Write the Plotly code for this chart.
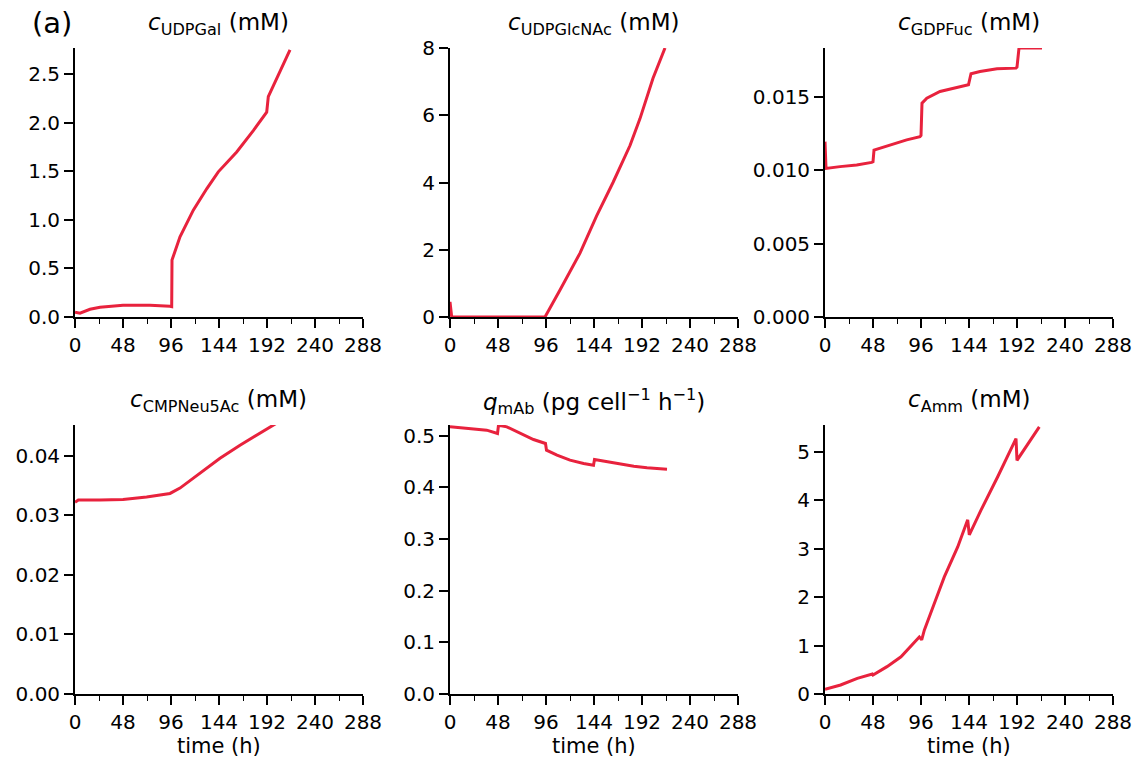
import plotly.graph_objects as go

# ---------------- data ----------------
t_udpgal = [0, 5, 15, 25, 48, 75, 95, 96.7, 97, 105, 118.3, 131.7, 143.3, 161.7, 178.3, 191.7, 193.3, 201.7, 215]
v_udpgal = [0.05, 0.04, 0.08, 0.10, 0.12, 0.12, 0.11, 0.106, 0.586, 0.826, 1.10, 1.32, 1.495, 1.70, 1.92, 2.11,
            2.27, 2.46, 2.75]

t_udpglcnac = [0, 1.7, 30, 60, 95, 110, 120, 130, 146.5, 163, 180, 190, 203, 215]
v_udpglcnac = [0.45, 0.0, 0.0, 0.0, 0.0, 0.8, 1.35, 1.9, 3.0, 4.0, 5.1, 5.9, 7.1, 8.0]

t_gdpfuc = [0, 1, 15, 31.7, 46.7, 48, 49, 65, 81.7, 95, 96, 97, 101.8, 115, 131.8, 143.5, 144, 146, 155, 172, 191, 192, 194, 217]
v_gdpfuc = [0.01193, 0.01011, 0.01023, 0.01034, 0.01052, 0.01056, 0.01136, 0.01170, 0.01205, 0.01227, 0.01235,
            0.01455, 0.01489, 0.01534, 0.01564, 0.01580, 0.01595, 0.01655, 0.01670, 0.01689, 0.01693, 0.01700,
            0.01830, 0.01830]

t_cmpneu = [0, 3.3, 25, 48, 71.6, 95, 105, 125, 145, 165, 185, 201.5, 217.5]
v_cmpneu = [0.0322, 0.0326, 0.0326, 0.0327, 0.0331, 0.0337, 0.0346, 0.0371, 0.0396, 0.0418, 0.0438, 0.0455, 0.0468]

t_qmab = [0, 23.4, 36.7, 47.5, 48.5, 56.8, 70, 83.5, 95.5, 96.5, 107, 120, 133.6, 143.5, 144.5, 157, 170.4, 183.8, 197, 217]
v_qmab = [0.5174, 0.5142, 0.511, 0.5045, 0.5206, 0.5174, 0.5045, 0.4929, 0.4852, 0.4723, 0.4626, 0.4529, 0.4465,
          0.4432, 0.4542, 0.4497, 0.4452, 0.4413, 0.4381, 0.4355]

t_amm = [0, 15.6, 32.3, 47.3, 48, 62, 76, 88, 94.3, 96.7, 99.3, 109.3, 119.3, 132.7, 142.7, 144.3, 156, 172.7,
         191, 192, 214.3]
v_amm = [0.097, 0.186, 0.324, 0.414, 0.393, 0.566, 0.77, 1.05, 1.18, 1.12, 1.32, 1.87, 2.42, 3.04, 3.60, 3.29,
         3.80, 4.49, 5.28, 4.83, 5.52]

x_ticks = [0, 48, 96, 144, 192, 240, 288]

titles = [
    "<i>c</i><sub>UDPGal</sub> (mM)",
    "<i>c</i><sub>UDPGlcNAc</sub> (mM)",
    "<i>c</i><sub>GDPFuc</sub> (mM)",
    "<i>c</i><sub>CMPNeu5Ac</sub> (mM)",
    "<i>q</i><sub>mAb</sub> (pg cell<sup>−1</sup> h<sup>−1</sup>)",
    "<i>c</i><sub>Amm</sub> (mM)",
]

series = [
    (t_udpgal, v_udpgal, [0, 2.77], 0.5, ".1f"),
    (t_udpglcnac, v_udpglcnac, [0, 8.0], 2, "d"),
    (t_gdpfuc, v_gdpfuc, [0, 0.0183], 0.005, ".3f"),
    (t_cmpneu, v_cmpneu, [0, 0.0452], 0.01, ".2f"),
    (t_qmab, v_qmab, [0, 0.521], 0.1, ".1f"),
    (t_amm, v_amm, [0, 5.56], 1, "d"),
]

# ---------------- layout geometry ----------------
W, H = 1141, 769
col_px = [(75, 363), (450, 738), (825, 1113)]
row_px = [(48, 317), (425, 694)]
title_y = [24, 401]
RED = "#e8223d"
FONT = "DejaVu Sans"
TICK = 20

fig = go.Figure()
layout = dict(
    width=W, height=H, margin=dict(l=0, r=0, t=0, b=0, pad=0, autoexpand=False),
    plot_bgcolor="white", paper_bgcolor="white", showlegend=False,
    font=dict(family=FONT, size=TICK, color="black"),
)
annotations = []

for i, (t, v, yr, dt, fmt) in enumerate(series):
    r, c = divmod(i, 3)
    x0, x1 = col_px[c]
    y0, y1 = row_px[r]
    xa = "xaxis" if i == 0 else f"xaxis{i+1}"
    ya = "yaxis" if i == 0 else f"yaxis{i+1}"
    xref = "x" if i == 0 else f"x{i+1}"
    yref = "y" if i == 0 else f"y{i+1}"
    fig.add_trace(go.Scatter(x=t, y=v, mode="lines", line=dict(color=RED, width=3),
                             xaxis=xref, yaxis=yref, hoverinfo="skip"))
    layout[xa] = dict(
        domain=[x0 / W, x1 / W], anchor=yref, range=[0, 288], automargin=False,
        tickmode="array", tickvals=x_ticks, ticks="outside", ticklen=9, tickwidth=1.8,
        tickcolor="black", showline=True, linecolor="black", linewidth=1.8,
        showgrid=False, zeroline=False, tickfont=dict(size=TICK, family=FONT),
        minor=dict(dtick=24, tick0=0, ticks="outside", ticklen=5, tickwidth=1.4, tickcolor="black", showgrid=False),
    )
    layout[ya] = dict(
        domain=[1 - y1 / H, 1 - y0 / H], anchor=xref, range=yr, automargin=False,
        tick0=0, dtick=dt, tickformat=fmt, ticks="outside", ticklen=9, tickwidth=1.8,
        tickcolor="black", showline=True, linecolor="black", linewidth=1.8,
        showgrid=False, zeroline=False, tickfont=dict(size=TICK, family=FONT),
    )
    annotations.append(dict(
        text=titles[i], x=(x0 + x1) / 2 / W, y=1 - title_y[r] / H,
        xref="paper", yref="paper", xanchor="center", yanchor="middle",
        showarrow=False, font=dict(size=23, family=FONT),
    ))
    if r == 1:
        annotations.append(dict(
            text="time (h)", x=(x0 + x1) / 2 / W, y=1 - 746 / H,
            xref="paper", yref="paper", xanchor="center", yanchor="middle",
            showarrow=False, font=dict(size=21, family=FONT),
        ))

annotations.append(dict(text="(a)", x=30 / W, y=1 - 23 / H, xref="paper", yref="paper",
                        xanchor="left", yanchor="middle", showarrow=False,
                        font=dict(size=29, family=FONT)))
layout["annotations"] = annotations
fig.update_layout(**layout)
fig.write_html("out.html", config={"displayModeBar": False},
               post_script="document.body.style.margin='0';document.body.style.padding='0';")
